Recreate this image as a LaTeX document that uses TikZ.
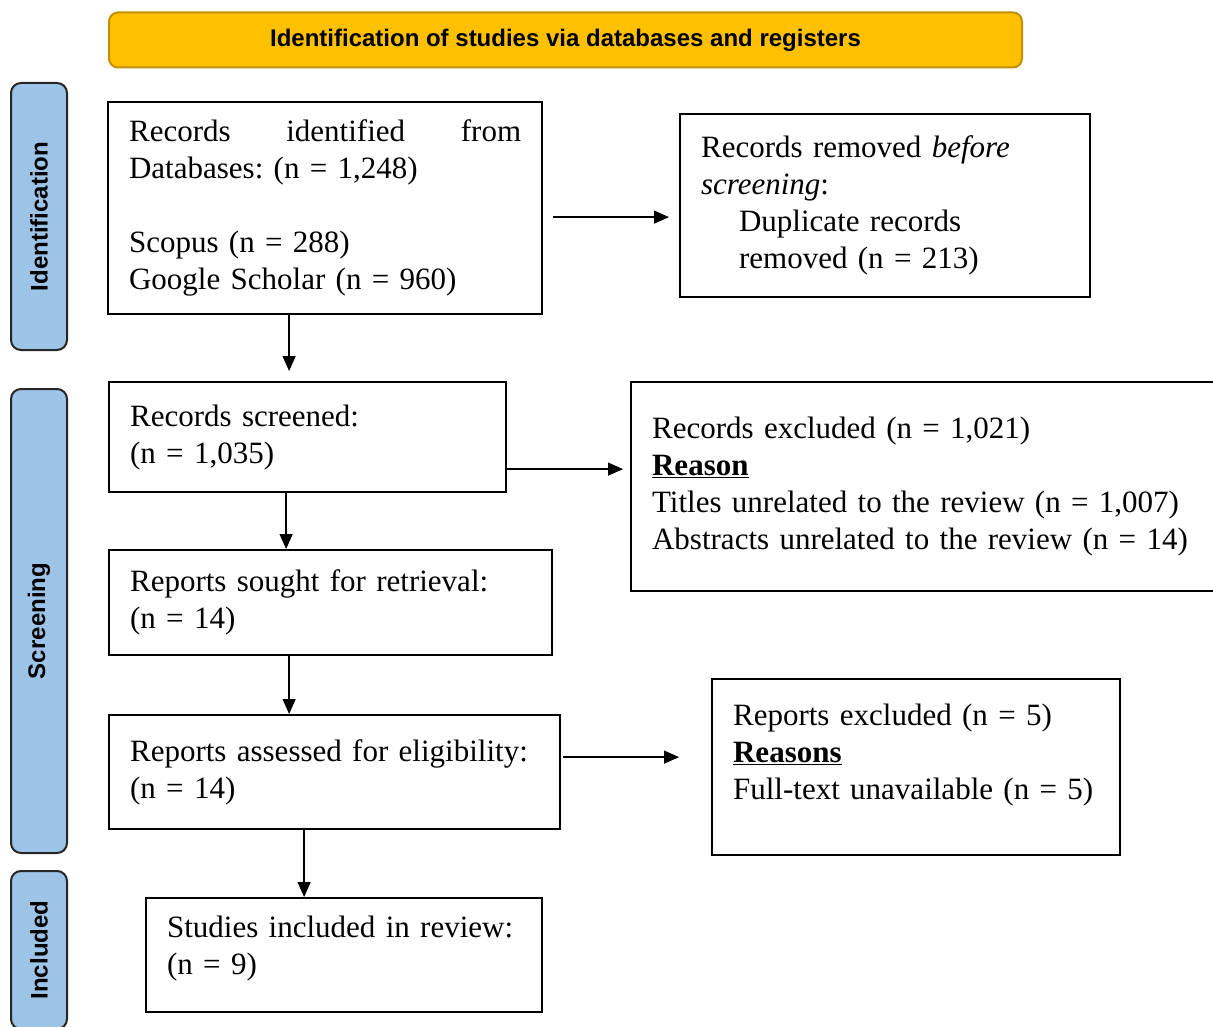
\documentclass[tikz,border=0pt]{standalone}
\usepackage{fontspec}
\setmainfont{Liberation Serif}
\setsansfont{Liberation Sans}
\definecolor{prismaGold}{HTML}{FFC000}
\definecolor{prismaGoldEdge}{HTML}{C09000}
\definecolor{prismaBlue}{HTML}{9DC3E6}
\usetikzlibrary{arrows.meta, positioning, calc}
\frenchspacing

\begin{document}
\begin{tikzpicture}[
    x=1pt, y=-1pt,
    box/.style={
      draw=black,
      line width=2.2pt,
      anchor=north west,
      align=left,
      inner xsep=21pt,
      inner ysep=0pt,
      font=\fontsize{31}{37}\selectfont,
    },
    phase/.style={
      rounded corners=10pt,
      draw=black!85,
      fill=prismaBlue,
      line width=2pt,
      rotate=90,
      minimum height=56pt,
      font=\sffamily\bfseries\fontsize{24}{28}\selectfont,
    },
    banner/.style={
      rounded corners=9pt,
      draw=prismaGoldEdge,
      fill=prismaGold,
      line width=2pt,
      minimum width=913pt,
      minimum height=55pt,
      font=\sffamily\bfseries\fontsize{24}{28}\selectfont,
    },
    arr/.style={-{Triangle[length=15pt,width=13pt]}, line width=1.3pt},
  ]
    \useasboundingbox (0,0) rectangle (1213,1027);

    % header and phase labels
    \node[banner] (head) at (565.5,40) {Identification of studies via databases and registers};
    \node[phase, minimum width=267pt] (phId) at (39,216.5) {Identification};
    \node[phase, minimum width=464pt] (phScr) at (39,621) {Screening};
    \node[phase, minimum width=158pt] (phInc) at (39,950) {Included};

    % main column
    \node[box, text width=392pt, minimum height=212pt] (ident) at (107,101) {
      Records\hfill identified\hfill from\\
      Databases: (n = 1,248)\\[37pt]
      Scopus (n = 288)\\
      Google Scholar (n = 960)
    };
    \node[box, text width=355pt, minimum height=110pt] (scr) at (108,381) {
      Records screened:\\
      (n = 1,035)
    };
    \node[box, text width=401pt, minimum height=105pt] (sought) at (108,549) {
      Reports sought for retrieval:\\
      (n = 14)
    };
    \node[box, text width=409pt, minimum height=114pt] (elig) at (108,714) {
      Reports assessed for eligibility:\\
      (n = 14)
    };
    \node[box, text width=354pt, minimum height=114pt] (incl) at (145,897) {
      Studies included in review:\\
      (n = 9)\rule[-20pt]{0pt}{20pt}
    };

    % side column
    \node[box, text width=368pt, minimum height=183pt] (dupl) at (679,113) {
      Records removed \textit{before}\\
      \textit{screening}:\\
      \hspace*{38pt}Duplicate records\\
      \hspace*{38pt}removed (n = 213)
    };
    \node[box, text width=546pt, minimum height=209pt] (recEx) at (630,381) {
      Records excluded (n = 1,021)\\
      \textbf{\underline{Reason}}\\
      Titles unrelated to the review (n = 1,007)\\
      Abstracts unrelated to the review (n = 14)
    };
    \node[box, text width=366pt, minimum height=176pt] (repEx) at (711,678) {
      Reports excluded (n = 5)\\
      \textbf{\underline{Reasons}}\\
      Full-text unavailable (n = 5)\rule[-31pt]{0pt}{31pt}
    };

    % connectors
    \draw[arr, shorten <=10pt, shorten >=10pt] ([yshift=-9pt]ident.east) -- ([yshift=-9pt]ident.east -| dupl.west);
    \draw[arr, shorten >=10pt] ([xshift=-36pt]ident.south) -- ([xshift=-36pt]ident.south |- scr.north);
    \draw[arr, shorten >=7pt] ([yshift=-32pt]scr.east) -- ([yshift=-32pt]scr.east -| recEx.west);
    \draw[arr] ([xshift=-21.5pt]scr.south) -- ([xshift=-21.5pt]scr.south |- sought.north);
    \draw[arr] ([xshift=-41.5pt]sought.south) -- ([xshift=-41.5pt]sought.south |- elig.north);
    \draw[arr, shorten <=2pt, shorten >=32pt] ([yshift=15pt]elig.east) -- ([yshift=15pt]elig.east -| repEx.west);
    \draw[arr] ([xshift=-30.5pt]elig.south) -- ([xshift=-30.5pt]elig.south |- incl.north);
  \end{tikzpicture}
\end{document}
